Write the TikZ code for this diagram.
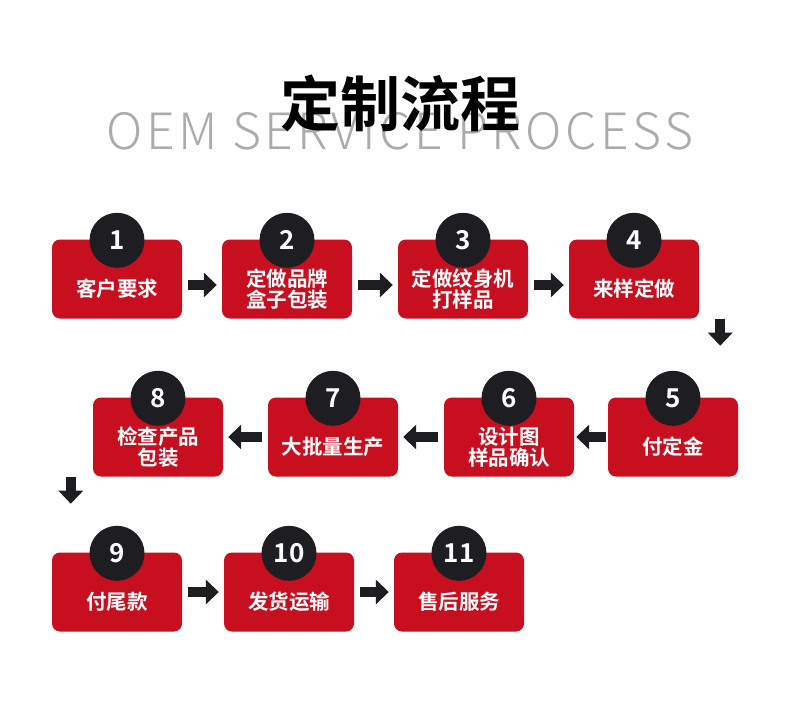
\documentclass[tikz,border=0pt]{standalone}
\usepackage{fontspec}
\setmainfont{Noto Sans}
\newfontfamily\cjk{Noto Sans CJK SC}[BoldFont={Noto Sans CJK SC Bold}]
\newfontfamily\cjklight{Noto Sans CJK SC Light}[LetterSpace=7]
\usetikzlibrary{arrows.meta}
\definecolor{boxred}{HTML}{C70F1F}
\definecolor{numdark}{HTML}{1E1E22}
\definecolor{titlegrey}{HTML}{ABABAB}

\begin{document}
\begin{tikzpicture}[x=1pt,y=-1pt,
  stepbox/.style={rectangle,rounded corners=8pt,fill=boxred,minimum width=130pt,minimum height=79pt,inner sep=0pt},
  stepnum/.style={circle,fill=numdark,minimum size=55pt,inner sep=0pt,text=white,font=\cjk\bfseries\fontsize{26}{26}\selectfont},
  steptext/.style={text=white,align=center,inner sep=0pt,font=\cjk\bfseries\fontsize{20.5}{21}\selectfont},
  flow/.style={numdark,line width=10pt,shorten <=6pt,shorten >=5pt,-{Triangle[length=13pt,width=24pt]}}]
\fill[white] (0,0) rectangle (790,713);
\useasboundingbox (0,0) rectangle (790,713);

% heading
\node[text=titlegrey,font=\cjklight\fontsize{50}{50}\selectfont] (subtitle) at (400,131) {OEM SERVICE PROCESS};
\node[font=\cjk\bfseries\fontsize{60}{60}\selectfont] (title) at (400,103) {定制流程};

% steps
\foreach \n/\x/\y/\t in {1/117/279/{客户要求},2/287/279/{定做品牌\\盒子包装},
  3/463/279/{定做纹身机\\打样品},4/634/279/{来样定做},
  5/673/437/{付定金},6/509/437/{设计图\\样品确认},
  7/333/437/{大批量生产},8/158/437/{检查产品\\包装},
  9/117/592/{付尾款},10/289/592/{发货运输},11/459/592/{售后服务}}{
  \node[stepbox] (box\n) at (\x,\y) {};
  \node[steptext] (text\n) at ([yshift=-10pt]box\n.center) {\t};
  \node[stepnum] (num\n) at ([yshift=-1pt]box\n.north) {\n};
}

% arrows
\draw[flow] ([yshift=-6pt]box1.east) -- ([yshift=-6pt]box2.west);
\draw[flow] ([yshift=-6pt]box2.east) -- ([yshift=-6pt]box3.west);
\draw[flow] ([yshift=-6pt]box3.east) -- ([yshift=-6pt]box4.west);
\coordinate (turn1) at ([xshift=21pt]box4.south east);
\draw[flow,shorten <=0pt] (turn1) -- ++(0,32);
\draw[flow,shorten <=2pt,shorten >=2pt] (box5) -- (box6);
\draw[flow] (box6) -- (box7);
\draw[flow] (box7) -- (box8);
\coordinate (turn2) at ([xshift=-22pt]box8.south west);
\draw[flow,shorten <=0pt] (turn2) -- ++(0,32);
\draw[flow] (box9) -- (box10);
\draw[flow] (box10) -- (box11);
\end{tikzpicture}
\end{document}
